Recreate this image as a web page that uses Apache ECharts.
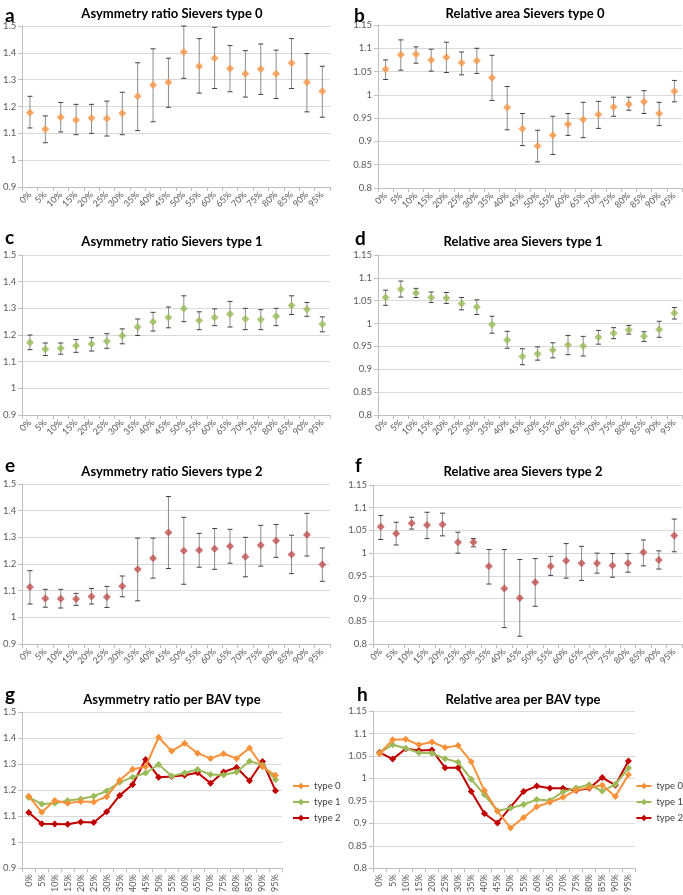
<!DOCTYPE html>
<html>
<head>
<meta charset="utf-8">
<script src="https://cdn.jsdelivr.net/npm/echarts@6/dist/echarts.min.js"></script>
<style>
  html, body { margin: 0; padding: 0; background: #fff; }
  #chart { width: 683px; height: 895px; }
</style>
</head>
<body>
<div id="chart"></div>
<script>
// categories (percentage along the valve)
const pct = ['0%','5%','10%','15%','20%','25%','30%','35%','40%','45%','50%','55%','60%','65%','70%','75%','80%','85%','90%','95%'];

// asymmetry ratio, type 0
const asym0 = [1.177,1.115,1.160,1.150,1.157,1.155,1.175,1.238,1.280,1.290,1.403,1.350,1.380,1.342,1.322,1.340,1.322,1.362,1.290,1.257];
const asym0Lo = [1.120,1.065,1.105,1.095,1.100,1.090,1.095,1.110,1.143,1.197,1.305,1.250,1.267,1.255,1.235,1.245,1.230,1.267,1.180,1.160];
const asym0Hi = [1.238,1.165,1.215,1.208,1.208,1.220,1.253,1.363,1.415,1.380,1.500,1.453,1.495,1.427,1.408,1.433,1.410,1.453,1.397,1.350];

// relative area, type 0
const area0 = [1.055,1.086,1.087,1.075,1.081,1.069,1.073,1.037,0.973,0.927,0.890,0.913,0.937,0.947,0.958,0.974,0.980,0.985,0.960,1.008];
const area0Lo = [1.033,1.053,1.068,1.051,1.048,1.043,1.046,0.988,0.925,0.891,0.856,0.872,0.913,0.908,0.928,0.954,0.967,0.960,0.934,0.985];
const area0Hi = [1.075,1.118,1.103,1.098,1.113,1.092,1.100,1.085,1.018,0.960,0.924,0.954,0.960,0.984,0.986,0.995,0.995,1.009,0.984,1.031];

// asymmetry ratio, type 1
const asym1 = [1.172,1.147,1.150,1.160,1.166,1.177,1.197,1.230,1.250,1.266,1.299,1.254,1.266,1.279,1.260,1.258,1.270,1.311,1.297,1.240];
const asym1Lo = [1.145,1.123,1.128,1.135,1.140,1.150,1.167,1.198,1.215,1.227,1.250,1.220,1.235,1.230,1.220,1.220,1.235,1.277,1.270,1.212];
const asym1Hi = [1.200,1.170,1.170,1.183,1.190,1.205,1.223,1.260,1.285,1.305,1.347,1.287,1.298,1.326,1.300,1.295,1.300,1.347,1.322,1.268];

// relative area, type 1
const area1 = [1.057,1.075,1.067,1.057,1.056,1.044,1.036,0.998,0.964,0.928,0.934,0.942,0.953,0.951,0.970,0.979,0.986,0.972,0.987,1.023];
const area1Lo = [1.040,1.058,1.057,1.046,1.044,1.030,1.020,0.979,0.946,0.910,0.920,0.925,0.932,0.929,0.955,0.967,0.977,0.961,0.970,1.010];
const area1Hi = [1.073,1.093,1.077,1.069,1.068,1.057,1.052,1.016,0.983,0.945,0.949,0.958,0.974,0.972,0.985,0.991,0.996,0.982,1.005,1.035];

// asymmetry ratio, type 2
const asym2 = [1.114,1.071,1.070,1.069,1.078,1.076,1.117,1.180,1.222,1.318,1.250,1.252,1.257,1.267,1.227,1.270,1.287,1.236,1.310,1.198];
const asym2Lo = [1.050,1.038,1.035,1.045,1.050,1.037,1.077,1.062,1.147,1.183,1.124,1.188,1.180,1.203,1.152,1.192,1.225,1.164,1.230,1.135];
const asym2Hi = [1.175,1.105,1.105,1.090,1.108,1.116,1.155,1.297,1.297,1.453,1.375,1.315,1.333,1.330,1.300,1.345,1.348,1.308,1.390,1.260];

// relative area, type 2
const area2 = [1.058,1.043,1.066,1.062,1.063,1.024,1.024,0.971,0.922,0.901,0.936,0.971,0.983,0.978,0.978,0.973,0.978,1.002,0.985,1.039];
const area2Lo = [1.030,1.018,1.053,1.032,1.038,1.000,1.014,0.932,0.836,0.817,0.883,0.951,0.945,0.940,0.956,0.947,0.958,0.972,0.965,1.003];
const area2Hi = [1.083,1.068,1.079,1.090,1.088,1.046,1.032,1.008,1.008,0.986,0.988,0.993,1.021,1.015,1.000,0.999,0.999,1.029,1.005,1.075];

const seriesNames = ['type 0', 'type 1', 'type 2'];

const C_ORANGE = '#F79646';
const C_GREEN = '#9BBB59';
const C_RED = '#C0504D';
const C_DARKRED = '#C00000';
const FONT = 'Lato, "Liberation Sans", sans-serif';

// one entry per panel: grid box, letter and title positions
const panels = [
  { grid: [20, 26, 310, 161],  letter: 'a', lx: 0,   ly: 1,   title: 'Asymmetry ratio Sievers type 0', tx: 167, ty: 2,   kind: 'asym' },
  { grid: [378, 25, 304, 163], letter: 'b', lx: 349, ly: 1,   title: 'Relative area Sievers type 0',   tx: 520, ty: 2,   kind: 'area' },
  { grid: [20, 255, 310, 160], letter: 'c', lx: 0,   ly: 223, title: 'Asymmetry ratio Sievers type 1', tx: 167, ty: 230, kind: 'asym' },
  { grid: [378, 255, 304, 160],letter: 'd', lx: 350, ly: 224, title: 'Relative area Sievers type 1',   tx: 518, ty: 230, kind: 'area' },
  { grid: [20, 484, 310, 160], letter: 'e', lx: 0,   ly: 451, title: 'Asymmetry ratio Sievers type 2', tx: 167, ty: 460, kind: 'asym' },
  { grid: [373, 485, 309, 159],letter: 'f', lx: 350, ly: 451, title: 'Relative area Sievers type 2',   tx: 518, ty: 460, kind: 'area' },
  { grid: [21, 712, 261, 163], letter: 'g', lx: 0,   ly: 680, title: 'Asymmetry ratio per BAV type',   tx: 167, ty: 688, kind: 'asym', rot: 90 },
  { grid: [373, 711, 262, 165],letter: 'h', lx: 352, ly: 680, title: 'Relative area per BAV type',     tx: 518, ty: 688, kind: 'area', rot: 90 }
];

const titles = [];
const grids = [];
const xAxes = [];
const yAxes = [];

panels.forEach((p, i) => {
  titles.push({
    text: p.letter, left: p.lx, top: p.ly,
    textStyle: { fontFamily: FONT, fontSize: 19, fontWeight: 'bold', color: '#000' }
  });
  titles.push({
    text: p.title, left: p.tx, top: p.ty, textAlign: 'center',
    textStyle: { fontFamily: FONT, fontSize: 13, fontWeight: 'bold', color: '#000' }
  });
  grids.push({ left: p.grid[0], top: p.grid[1], width: p.grid[2], height: p.grid[3], containLabel: false });
  xAxes.push({
    type: 'category', gridIndex: i, data: pct, boundaryGap: true,
    axisLine: { lineStyle: { color: '#bfbfbf' } },
    axisTick: { show: true, length: 4, lineStyle: { color: '#bfbfbf' } },
    axisLabel: { interval: 0, rotate: p.rot || 45, fontSize: 9, color: '#595959', fontFamily: FONT, margin: 6 }
  });
  const isAsym = p.kind === 'asym';
  yAxes.push({
    type: 'value', gridIndex: i,
    min: isAsym ? 0.9 : 0.8, max: isAsym ? 1.5 : 1.15, interval: isAsym ? 0.1 : 0.05,
    axisLine: { show: true, lineStyle: { color: '#bfbfbf' } },
    axisTick: { show: true, length: 4, lineStyle: { color: '#bfbfbf' } },
    splitLine: { lineStyle: { color: '#d9d9d9' } },
    axisLabel: { fontSize: 9.5, color: '#595959', fontFamily: FONT, margin: 6 }
  });
});

function errRows(lo, hi) {
  return lo.map((v, i) => [i, v, hi[i]]);
}

// vertical error bar with caps, placed through the axis scales
function errBar(params, api) {
  const x = api.value(0);
  const lo = api.coord([x, api.value(1)]);
  const hi = api.coord([x, api.value(2)]);
  const w = 2.5;
  return {
    type: 'group',
    children: [
      { type: 'line', shape: { x1: lo[0], y1: lo[1], x2: hi[0], y2: hi[1] }, style: { stroke: '#8c8c8c', lineWidth: 1 } },
      { type: 'line', shape: { x1: lo[0] - w, y1: lo[1], x2: lo[0] + w, y2: lo[1] }, style: { stroke: '#404040', lineWidth: 1 } },
      { type: 'line', shape: { x1: hi[0] - w, y1: hi[1], x2: hi[0] + w, y2: hi[1] }, style: { stroke: '#404040', lineWidth: 1 } }
    ]
  };
}

const series = [];
const errPanels = [
  [asym0, asym0Lo, asym0Hi, C_ORANGE],
  [area0, area0Lo, area0Hi, C_ORANGE],
  [asym1, asym1Lo, asym1Hi, C_GREEN],
  [area1, area1Lo, area1Hi, C_GREEN],
  [asym2, asym2Lo, asym2Hi, C_RED],
  [area2, area2Lo, area2Hi, C_RED]
];
errPanels.forEach((e, i) => {
  series.push({
    type: 'custom', xAxisIndex: i, yAxisIndex: i, renderItem: errBar,
    data: errRows(e[1], e[2]), encode: { x: 0, y: [1, 2] }, silent: true, z: 2, clip: false
  });
  series.push({
    type: 'scatter', xAxisIndex: i, yAxisIndex: i, data: e[0],
    symbol: 'diamond', symbolSize: 8, itemStyle: { color: e[3] }, z: 3
  });
});

const lineColors = ['#F7923A', C_GREEN, C_DARKRED];
const asymAll = [asym0, asym1, asym2];
const areaAll = [area0, area1, area2];
[asymAll, areaAll].forEach((group, gi) => {
  group.forEach((vals, k) => {
    series.push({
      type: 'line', name: seriesNames[k], xAxisIndex: 6 + gi, yAxisIndex: 6 + gi, data: vals,
      symbol: 'diamond', symbolSize: 7, showAllSymbol: true,
      lineStyle: { width: 2, color: lineColors[k] }, itemStyle: { color: lineColors[k] }, z: 3 + (2 - k)
    });
  });
});

const legendStyle = { fontSize: 9.5, color: '#404040', fontFamily: FONT };
const chart = echarts.init(document.getElementById('chart'), null, { renderer: 'canvas' });
chart.setOption({
  animation: false,
  backgroundColor: '#fff',
  title: titles,
  grid: grids,
  xAxis: xAxes,
  yAxis: yAxes,
  legend: [
    { data: seriesNames, orient: 'vertical', left: 292, top: 781, itemWidth: 16, itemHeight: 8, itemGap: 6, textStyle: legendStyle, padding: 0 },
    { data: seriesNames, orient: 'vertical', right: 0, top: 781, itemWidth: 15, itemHeight: 8, itemGap: 6, textStyle: legendStyle, padding: 0 }
  ],
  series: series
});
</script>
</body>
</html>
